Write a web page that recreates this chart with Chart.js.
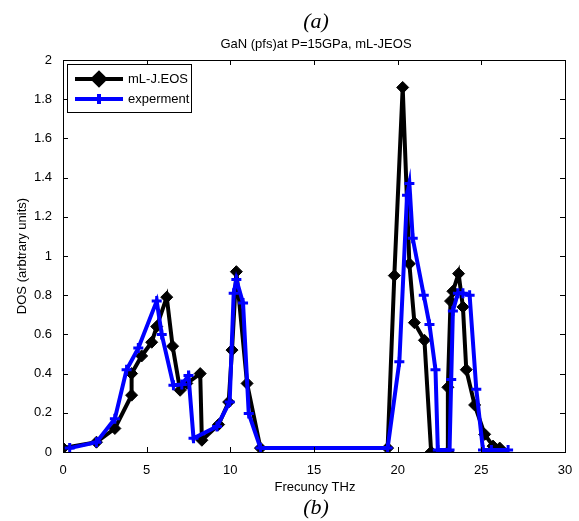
<!DOCTYPE html>
<html>
<head>
<meta charset="utf-8">
<script src="https://cdn.jsdelivr.net/npm/chart.js@4/dist/chart.umd.min.js"></script>
<style>
  html, body { margin: 0; padding: 0; background: #fff; }
  #wrap { width: 579px; height: 521px; }
</style>
</head>
<body>
<div id="wrap"><canvas id="dosChart" width="579" height="521"></canvas></div>
<script>
// data (THz, arbitrary units)
const eosX = [0, 2.0, 3.1, 4.1, 4.1, 4.7, 5.3, 5.6, 6.2, 6.55, 7.0, 7.4, 8.2, 8.3, 9.3, 9.9, 10.1, 10.36, 11.0, 11.8,
  19.4, 19.8, 20.3, 20.7, 21.0, 21.6, 22.0, 23.0, 23.0, 23.16, 23.3, 23.64, 23.9, 24.1, 24.6, 25.2, 25.7, 26.1];
const eosY = [0.02, 0.05, 0.12, 0.29, 0.40, 0.49, 0.56, 0.64, 0.79, 0.54, 0.315, 0.35, 0.40, 0.06, 0.14, 0.255, 0.52, 0.92, 0.35, 0.02,
  0.02, 0.90, 1.86, 0.96, 0.66, 0.57, 0.0, 0.0, 0.33, 0.77, 0.82, 0.91, 0.74, 0.42, 0.24, 0.09, 0.03, 0.02];

const expX = [0.4, 2.0, 3.1, 3.8, 4.5, 5.6, 5.9, 6.6, 7.1, 7.5, 7.8, 9.2, 9.96, 10.2, 10.36, 10.76, 11.1, 11.8,
  19.4, 20.1, 20.56, 20.7, 20.9, 21.56, 21.9, 22.26, 22.4, 23.1, 23.2, 23.3, 23.6, 23.9, 24.3, 24.7, 25.1, 25.6, 26.6];
const expY = [0.02, 0.05, 0.17, 0.42, 0.53, 0.77, 0.60, 0.34, 0.345, 0.39, 0.07, 0.13, 0.255, 0.81, 0.88, 0.76, 0.196, 0.02,
  0.02, 0.46, 1.31, 1.37, 1.09, 0.80, 0.65, 0.42, 0.01, 0.01, 0.37, 0.72, 0.81, 0.81, 0.80, 0.32, 0.01, 0.01, 0.01];

const xTicks = [0, 5, 10, 15, 20, 25, 30];
const yTicks = [0, 0.2, 0.4, 0.6, 0.8, 1, 1.2, 1.4, 1.6, 1.8, 2];

const seriesNames = ['mL-J.EOS', 'experment'];

const toPoints = (xs, ys) => xs.map((x, i) => ({ x: x, y: ys[i] }));

// box, inward ticks, titles and legend, MATLAB style
const matlabFrame = {
  id: 'matlabFrame',
  afterDraw(chart) {
    const ctx = chart.ctx;
    const a = chart.chartArea;
    const xs = chart.scales.x, ys = chart.scales.y;
    ctx.save();
    ctx.strokeStyle = '#000';
    ctx.lineWidth = 1;
    ctx.strokeRect(a.left + 0.5, a.top + 0.5, a.right - a.left, a.bottom - a.top);
    ctx.beginPath();
    xTicks.forEach(v => {
      const px = Math.round(xs.getPixelForValue(v)) + 0.5;
      ctx.moveTo(px, a.bottom); ctx.lineTo(px, a.bottom - 5);
      ctx.moveTo(px, a.top); ctx.lineTo(px, a.top + 5);
    });
    yTicks.forEach(v => {
      const py = Math.round(ys.getPixelForValue(v)) + 0.5;
      ctx.moveTo(a.left, py); ctx.lineTo(a.left + 5, py);
      ctx.moveTo(a.right, py); ctx.lineTo(a.right - 5, py);
    });
    ctx.stroke();

    ctx.fillStyle = '#000';
    ctx.textAlign = 'center';
    ctx.textBaseline = 'middle';
    ctx.font = 'italic 22px "Liberation Serif"';
    ctx.fillText('(a)', 316, 22);
    ctx.fillText('(b)', 316, 508);
    ctx.font = '13px "Liberation Sans"';
    ctx.fillText('GaN (pfs)at P=15GPa, mL-JEOS', 316, 44);
    ctx.fillText('Frecuncy THz', 315, 487);
    ctx.save();
    ctx.translate(22, 256);
    ctx.rotate(-Math.PI / 2);
    ctx.fillText('DOS (arbtrary units)', 0, 0);
    ctx.restore();

    // legend
    const lx = 67, ly = 64, lw = 124, lh = 48;
    ctx.fillStyle = '#fff';
    ctx.fillRect(lx, ly, lw, lh);
    ctx.strokeRect(lx + 0.5, ly + 0.5, lw, lh);
    const rows = [
      { ds: chart.data.datasets[0], y: ly + 15 },
      { ds: chart.data.datasets[1], y: ly + 35 }
    ];
    rows.forEach(r => {
      ctx.strokeStyle = r.ds.borderColor;
      ctx.lineWidth = r.ds.borderWidth;
      ctx.beginPath();
      ctx.moveTo(lx + 8, r.y); ctx.lineTo(lx + 56, r.y);
      ctx.stroke();
      Chart.helpers.drawPoint(ctx, {
        pointStyle: r.ds.pointStyle, radius: r.ds.pointRadius, borderWidth: 3, rotation: 0
      }, lx + 32, r.y);
      if (r.ds.pointStyle === 'rectRot') { ctx.fillStyle = r.ds.pointBackgroundColor; ctx.fill(); }
      ctx.fillStyle = '#000';
      ctx.textAlign = 'left';
      ctx.font = '13px "Liberation Sans"';
      ctx.fillText(r.ds.label, lx + 61, r.y);
    });
    ctx.restore();
  }
};

new Chart(document.getElementById('dosChart'), {
  type: 'scatter',
  data: {
    datasets: [
      {
        label: seriesNames[0],
        data: toPoints(eosX, eosY),
        showLine: true,
        borderColor: '#000',
        backgroundColor: '#000',
        borderWidth: 4,
        pointStyle: 'rectRot',
        pointRadius: 6,
        pointBackgroundColor: '#000',
        pointBorderColor: '#000',
        pointBorderWidth: 1,
        order: 1
      },
      {
        label: seriesNames[1],
        data: toPoints(expX, expY),
        showLine: true,
        borderColor: '#0000ff',
        backgroundColor: '#0000ff',
        borderWidth: 4,
        pointStyle: 'cross',
        pointRadius: 5,
        pointBorderColor: '#0000ff',
        pointBorderWidth: 3,
        order: 0
      }
    ]
  },
  options: {
    responsive: false,
    animation: false,
    layout: { padding: { top: 60, right: 14, left: 0, bottom: 0 } },
    plugins: { legend: { display: false }, tooltip: { enabled: false }, title: { display: false } },
    scales: {
      x: {
        type: 'linear', min: 0, max: 30,
        afterBuildTicks: s => { s.ticks = xTicks.map(v => ({ value: v })); },
        afterFit: s => { s.height = 69; },
        grid: { display: false },
        border: { display: false },
        ticks: { color: '#000', font: { family: 'Liberation Sans', size: 13 }, padding: 3, maxRotation: 0,
          callback: v => String(v) }
      },
      y: {
        type: 'linear', min: 0, max: 2,
        afterBuildTicks: s => { s.ticks = yTicks.map(v => ({ value: v })); },
        afterFit: s => { s.width = 63; },
        grid: { display: false },
        border: { display: false },
        ticks: { color: '#000', font: { family: 'Liberation Sans', size: 13 }, padding: 3,
          callback: v => String(v) }
      }
    }
  },
  plugins: [matlabFrame]
});
</script>
</body>
</html>
